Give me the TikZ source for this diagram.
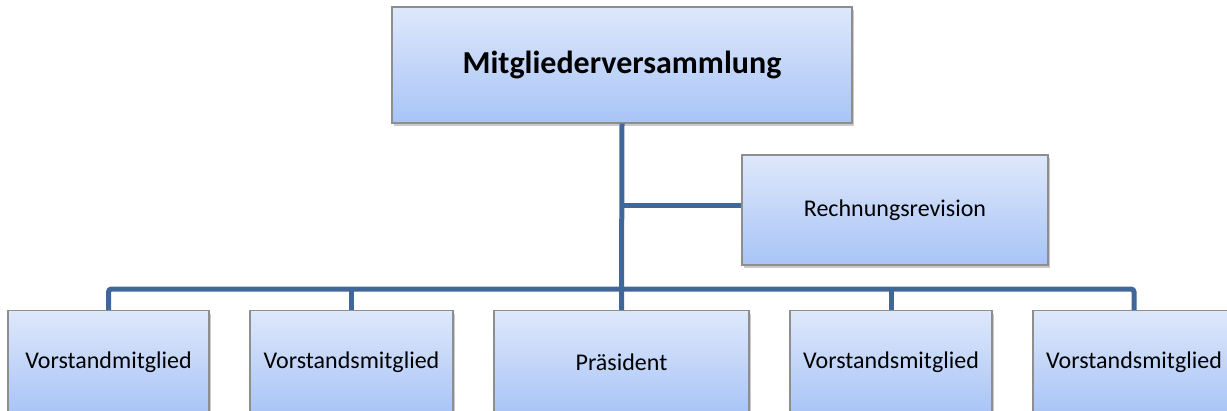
\documentclass[tikz,border=0pt]{standalone}
\usepackage{fontspec}
\setmainfont{Carlito}
\usetikzlibrary{shadows}
\definecolor{linec}{HTML}{41679A}
\definecolor{boxtop}{HTML}{DEE8FB}
\definecolor{boxbot}{HTML}{A8C4F6}
\definecolor{boxdraw}{HTML}{8E8E8E}
\tikzset{
  orgbox/.style={draw=boxdraw, line width=1.2pt, top color=boxtop, bottom color=boxbot,
    drop shadow={shadow xshift=2pt, shadow yshift=-3pt, opacity=0.35, fill=black!60},
    inner sep=0pt, font=\fontsize{24}{29}\selectfont, text=black},
  conn/.style={draw=linec, line width=5pt},
}
\begin{document}
\begin{tikzpicture}[x=1pt,y=-1pt]
\useasboundingbox (0,0) rectangle (1227,410);
\coordinate (bus) at (622,289);
\coordinate (br) at (622,205);
\node[orgbox, minimum width=460pt, minimum height=116pt, font=\fontsize{32}{38}\selectfont\bfseries] (mv) at (622,65) {Mitgliederversammlung};
\node[orgbox, minimum width=306pt, minimum height=110pt] (rr) at (895,210) {Rechnungsrevision};
\node[orgbox, minimum width=201pt, minimum height=104pt, anchor=north] (v1) at (108.5,310) {Vorstandmitglied};
\node[orgbox, minimum width=203pt, minimum height=104pt, anchor=north] (v2) at (351.5,310) {Vorstandsmitglied};
\node[orgbox, minimum width=255pt, minimum height=104pt, anchor=north] (p) at (621.5,310) {Präsident};
\node[orgbox, minimum width=202pt, minimum height=104pt, anchor=north] (v4) at (891,310) {Vorstandsmitglied};
\node[orgbox, minimum width=202pt, minimum height=104pt, anchor=north] (v5) at (1134,310) {Vorstandsmitglied};
\draw[conn] (mv.south) -- (p.north);
\draw[conn] (br) -- (rr.west |- br);
\draw[conn, rounded corners=3pt] (v1.north) |- (bus) -| (v5.north);
\draw[conn] (v2.north) -- (v2.north |- bus);
\draw[conn] (v4.north) -- (v4.north |- bus);
\end{tikzpicture}
\end{document}
